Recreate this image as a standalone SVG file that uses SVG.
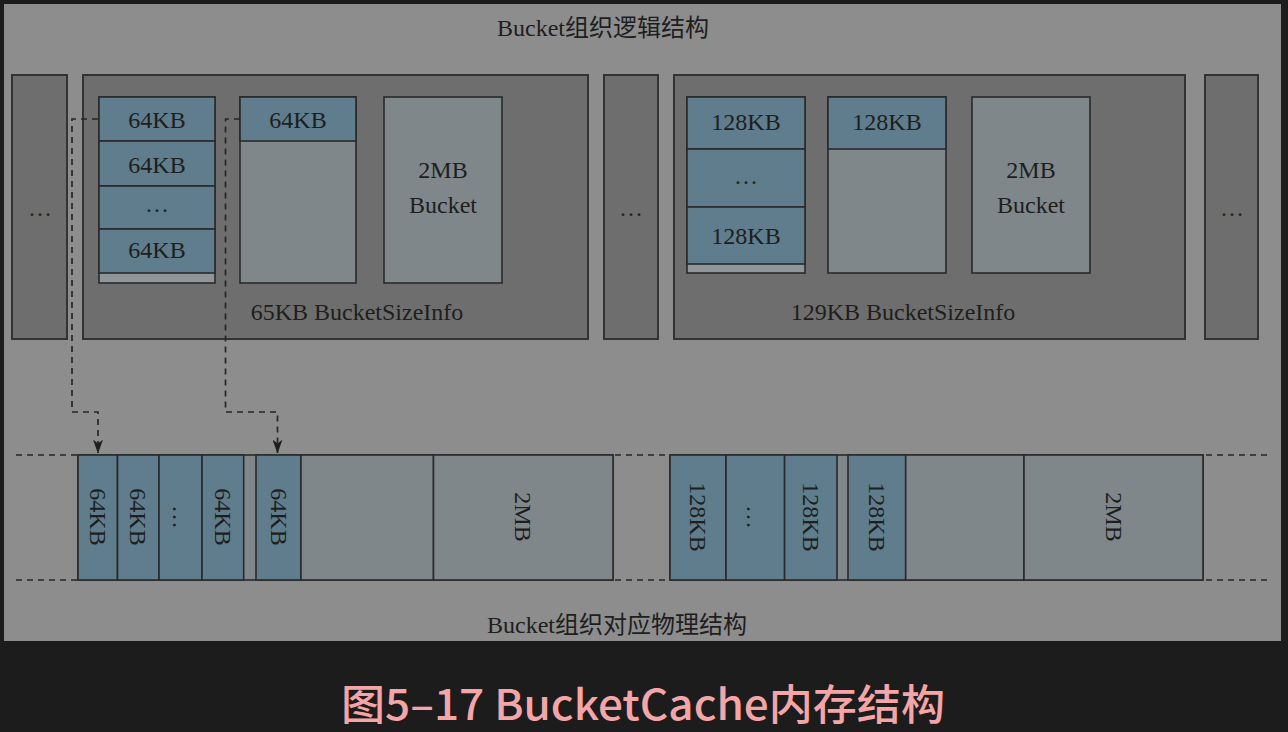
<svg xmlns="http://www.w3.org/2000/svg" width="1288" height="732" viewBox="0 0 1288 732">
<defs>
<style>
.t{font-family:"Liberation Serif","Noto Sans CJK SC",serif;font-size:24px;fill:#1e1e1e;text-anchor:middle}
.dark{fill:#6e6e6e;stroke:#333;stroke-width:2}
.blue{fill:#5f7d8c;stroke:#2a2a2a;stroke-width:1.6}
.lite{fill:#7f878b;stroke:#2a2a2a;stroke-width:1.6}
.pale{fill:#8f9599;stroke:#2a2a2a;stroke-width:1.6}
.dash{fill:none;stroke:#262626;stroke-width:1.7;stroke-dasharray:6 5}
</style>
<marker id="ah" viewBox="0 0 10 14" refX="5" refY="13.5" markerWidth="10" markerHeight="14" markerUnits="userSpaceOnUse" orient="0">
<path d="M0,0 L5,4 L10,0 L5,14 Z" fill="#1e1e1e"/>
</marker>
</defs>
<rect x="0" y="0" width="1288" height="732" fill="#1c1c1c"/>
<rect x="4" y="4" width="1277" height="637" fill="#8d8d8d"/>

<text class="t" x="603" y="36">Bucket组织逻辑结构</text>

<g id="ellipsis-left">
<rect class="dark" x="12" y="75" width="55" height="264"/>
<text class="t" x="40" y="216">…</text>
</g>

<g id="bsi-65">
<rect class="dark" x="83" y="75" width="505" height="264"/>
<rect class="pale" x="99" y="97" width="116" height="186"/>
<rect class="blue" x="99" y="97" width="116" height="44"/>
<rect class="blue" x="99" y="141" width="116" height="45"/>
<rect class="blue" x="99" y="186" width="116" height="43"/>
<rect class="blue" x="99" y="229" width="116" height="44"/>
<text class="t" x="157" y="128">64KB</text>
<text class="t" x="157" y="173">64KB</text>
<text class="t" x="157" y="212">…</text>
<text class="t" x="157" y="258">64KB</text>
<rect class="lite" x="240" y="97" width="116" height="186"/>
<rect class="blue" x="240" y="97" width="116" height="44"/>
<text class="t" x="298" y="128">64KB</text>
<rect class="lite" x="384" y="97" width="118" height="186"/>
<text class="t" x="443" y="178">2MB</text>
<text class="t" x="443" y="213">Bucket</text>
<text class="t" x="357" y="320">65KB BucketSizeInfo</text>
</g>

<g id="ellipsis-mid">
<rect class="dark" x="604" y="75" width="54" height="264"/>
<text class="t" x="631" y="216">…</text>
</g>

<g id="bsi-129">
<rect class="dark" x="674" y="75" width="511" height="264"/>
<rect class="pale" x="687" y="97" width="118" height="176"/>
<rect class="blue" x="687" y="97" width="118" height="52"/>
<rect class="blue" x="687" y="149" width="118" height="58"/>
<rect class="blue" x="687" y="207" width="118" height="57"/>
<text class="t" x="746" y="130">128KB</text>
<text class="t" x="746" y="184">…</text>
<text class="t" x="746" y="244">128KB</text>
<rect class="lite" x="828" y="97" width="118" height="176"/>
<rect class="blue" x="828" y="97" width="118" height="52"/>
<text class="t" x="887" y="130">128KB</text>
<rect class="lite" x="972" y="97" width="118" height="176"/>
<text class="t" x="1031" y="178">2MB</text>
<text class="t" x="1031" y="213">Bucket</text>
<text class="t" x="903" y="320">129KB BucketSizeInfo</text>
</g>

<g id="ellipsis-right">
<rect class="dark" x="1205" y="75" width="53" height="264"/>
<text class="t" x="1232" y="216">…</text>
</g>

<g id="phys-65">
<rect class="lite" x="78" y="455" width="535" height="125"/>
<rect class="blue" x="78" y="455" width="39.5" height="125"/>
<rect class="blue" x="117.5" y="455" width="41.5" height="125"/>
<rect class="blue" x="159" y="455" width="43" height="125"/>
<rect class="blue" x="202" y="455" width="41.7" height="125"/>
<rect class="blue" x="256" y="455" width="45" height="125"/>
<rect class="lite" x="301" y="455" width="132.5" height="125"/>
<rect class="lite" x="433.5" y="455" width="179.5" height="125"/>
<text class="t" transform="translate(97.7,517) rotate(90)" y="8">64KB</text>
<text class="t" transform="translate(138.3,517) rotate(90)" y="8">64KB</text>
<text class="t" transform="translate(180.5,517) rotate(90)" y="8">…</text>
<text class="t" transform="translate(222.8,517) rotate(90)" y="8">64KB</text>
<text class="t" transform="translate(278.5,517) rotate(90)" y="8">64KB</text>
<text class="t" transform="translate(523,517) rotate(90)" y="8">2MB</text>
</g>

<g id="phys-129">
<rect class="lite" x="670" y="455" width="533" height="125"/>
<rect class="blue" x="670" y="455" width="56" height="125"/>
<rect class="blue" x="726" y="455" width="58.6" height="125"/>
<rect class="blue" x="784.6" y="455" width="52.4" height="125"/>
<rect class="blue" x="848" y="455" width="57.7" height="125"/>
<rect class="lite" x="905.7" y="455" width="118.3" height="125"/>
<rect class="lite" x="1024" y="455" width="179" height="125"/>
<text class="t" transform="translate(698,517) rotate(90)" y="8">128KB</text>
<text class="t" transform="translate(755.3,517) rotate(90)" y="8">…</text>
<text class="t" transform="translate(810.8,517) rotate(90)" y="8">128KB</text>
<text class="t" transform="translate(876.8,517) rotate(90)" y="8">128KB</text>
<text class="t" transform="translate(1113.5,517) rotate(90)" y="8">2MB</text>
</g>

<g id="connectors">
<path class="dash" d="M16,455 H77 M16,580 H77"/>
<path class="dash" d="M615,455 H669 M615,580 H669"/>
<path class="dash" d="M1206,455 H1268 M1206,580 H1268"/>
<path class="dash" d="M98,119 H72 V412 H98 V453" marker-end="url(#ah)"/>
<path class="dash" d="M240,119 H225.5 V412 H277.5 V453" marker-end="url(#ah)"/>
</g>

<text class="t" x="617" y="633">Bucket组织对应物理结构</text>

<text x="643" y="720" font-family="'Noto Sans CJK SC','Liberation Sans',sans-serif" font-size="42" font-weight="500" fill="#f4a5a8" text-anchor="middle" textLength="604" lengthAdjust="spacingAndGlyphs">图5–17 BucketCache内存结构</text>
</svg>
